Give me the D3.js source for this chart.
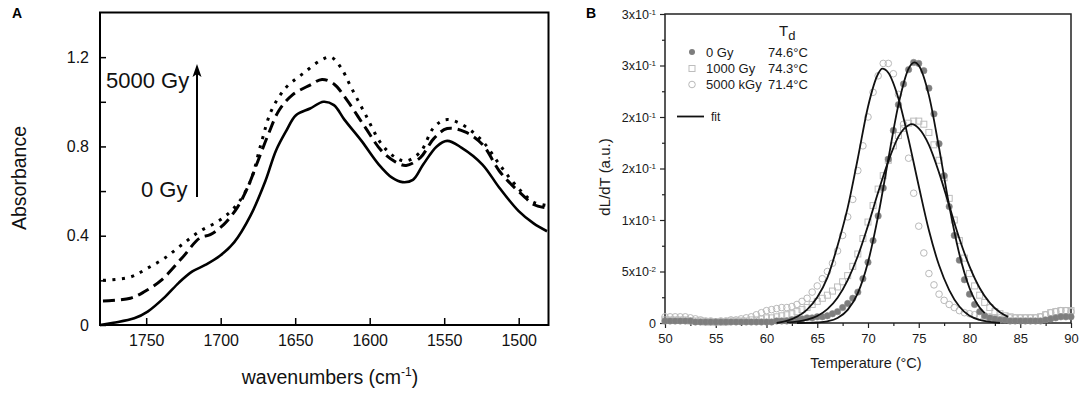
<!DOCTYPE html>
<html>
<head>
<meta charset="utf-8">
<script src="https://cdn.jsdelivr.net/npm/d3@7"></script>
<style>
  body { margin: 0; background: #fff; }
  svg { display: block; font-family: "Liberation Sans", Arial, sans-serif; }
</style>
</head>
<body>
<div id="chart-area"></div>
<script>
// ---------- Panel A data (wavenumber, absorbance) ----------
var spec0Gy = [
  [1781, 0.0], [1772, 0.01], [1758, 0.03], [1749, 0.06], [1737.5, 0.125], [1728, 0.19],
  [1719, 0.24], [1710, 0.27], [1700.5, 0.31], [1691, 0.37], [1680, 0.49], [1670, 0.645],
  [1663, 0.78], [1656, 0.87], [1649.5, 0.94], [1640, 0.97], [1631, 1.0], [1624, 0.985],
  [1617, 0.92], [1605.5, 0.825], [1594, 0.72], [1585, 0.66], [1578, 0.64], [1571, 0.65],
  [1564, 0.72], [1555, 0.80], [1548, 0.825], [1538.5, 0.795], [1524.5, 0.72], [1513, 0.615],
  [1500, 0.51], [1490, 0.455], [1481, 0.42]
];
var spec1000Gy = [
  [1779, 0.107], [1760.6, 0.12], [1751, 0.15], [1740, 0.20], [1726, 0.30], [1714, 0.39],
  [1707, 0.405], [1698, 0.45], [1689, 0.525], [1682, 0.615], [1675, 0.735], [1668, 0.855],
  [1661, 0.96], [1652, 1.03], [1640, 1.075], [1632, 1.10], [1624, 1.08], [1615, 1.005],
  [1603, 0.885], [1592, 0.78], [1582.5, 0.73], [1575.5, 0.715], [1566, 0.75], [1557, 0.835],
  [1548, 0.88], [1536, 0.865], [1524.5, 0.81], [1513, 0.69], [1505, 0.63], [1497, 0.58],
  [1490, 0.54], [1481, 0.525]
];
var spec5000Gy = [
  [1779, 0.20], [1760.6, 0.215], [1749, 0.255], [1737.5, 0.30], [1726, 0.36], [1714, 0.42],
  [1700.5, 0.47], [1689, 0.54], [1680, 0.645], [1673, 0.81], [1666, 0.96], [1656, 1.065],
  [1645, 1.125], [1633, 1.185], [1626, 1.20], [1619.5, 1.155], [1612.5, 1.065], [1603, 0.945],
  [1592, 0.81], [1582.5, 0.75], [1575.5, 0.735], [1566, 0.775], [1557, 0.885], [1549, 0.92],
  [1538.5, 0.90], [1524.5, 0.825], [1513, 0.72], [1505, 0.65], [1497, 0.59], [1490, 0.55],
  [1481, 0.535]
];
var aXTicks = [1750, 1700, 1650, 1600, 1550, 1500];
var aYTicks = [0, 0.2, 0.4, 0.6, 0.8, 1.0, 1.2];
var aYLabels = { 0: "0", 0.4: "0.4", 0.8: "0.8", 1.2: "1.2" };

// ---------- Panel B data (temperature every 0.5 °C from 50 to 90) ----------
var tempStart = 50, tempStep = 0.5;
var melt0Gy = [
  0.002, 0.002, 0.002, 0.002, 0.002, 0.002, 0.001, 0.001, 0.001, 0.001,
  0.001, 0.001, 0.001, 0.001, 0.001, 0.001, 0.001, 0.001, 0.001, 0.001,
  0.001, 0.001, 0.002, 0.002, 0.002, 0.003, 0.004, 0.004, 0.005, 0.005,
  0.006, 0.006, 0.007, 0.009, 0.011, 0.015, 0.019, 0.024, 0.030, 0.043,
  0.059, 0.080, 0.104, 0.131, 0.159, 0.187, 0.212, 0.232, 0.246, 0.253,
  0.252, 0.245, 0.228, 0.203, 0.174, 0.143, 0.113, 0.085, 0.061, 0.042,
  0.028, 0.018, 0.011, 0.007, 0.005, 0.004, 0.003, 0.003, 0.002, 0.002,
  0.002, 0.002, 0.002, 0.002, 0.002, 0.003, 0.004, 0.005, 0.006, 0.006,
  0.006
];
var melt1000Gy = [
  0.003, 0.003, 0.003, 0.003, 0.003, 0.002, 0.002, 0.002, 0.001, 0.001,
  0.001, 0.001, 0.001, 0.002, 0.002, 0.002, 0.002, 0.003, 0.003, 0.004,
  0.005, 0.005, 0.006, 0.007, 0.008, 0.009, 0.011, 0.013, 0.015, 0.018,
  0.021, 0.024, 0.027, 0.031, 0.035, 0.040, 0.046, 0.055, 0.067, 0.082,
  0.098, 0.114, 0.130, 0.143, 0.158, 0.172, 0.182, 0.189, 0.194, 0.196,
  0.196, 0.193, 0.185, 0.173, 0.158, 0.141, 0.121, 0.100, 0.080, 0.063,
  0.048, 0.036, 0.027, 0.020, 0.015, 0.011, 0.009, 0.007, 0.006, 0.005,
  0.005, 0.005, 0.005, 0.005, 0.006, 0.008, 0.010, 0.011, 0.012, 0.012,
  0.012
];
var melt5000kGy = [
  0.006, 0.006, 0.006, 0.006, 0.006, 0.005, 0.004, 0.003, 0.002, 0.002,
  0.001, 0.002, 0.002, 0.003, 0.003, 0.004, 0.005, 0.006, 0.008, 0.010,
  0.012, 0.013, 0.014, 0.015, 0.015, 0.016, 0.018, 0.021, 0.024, 0.030,
  0.036, 0.043, 0.050, 0.058, 0.070, 0.085, 0.103, 0.120, 0.148, 0.172,
  0.200, 0.224, 0.240, 0.252, 0.252, 0.242, 0.222, 0.193, 0.160, 0.126,
  0.094, 0.068, 0.048, 0.037, 0.028, 0.022, 0.018, 0.015, 0.012, 0.010,
  0.009, 0.008, 0.007, 0.006, 0.006, 0.005, 0.005, 0.005, 0.005, 0.005,
  0.005, 0.005, 0.005, 0.005, 0.006, 0.008, 0.010, 0.011, 0.012, 0.012,
  0.011
];
// fitted curves (temperature, dL/dT)
var fit0Gy = [
  [63, 0.000], [64, 0.0001], [65, 0.0005], [66, 0.0016], [67, 0.0048], [68, 0.0127],
  [69, 0.029], [70, 0.059], [71, 0.104], [72, 0.159], [73, 0.212], [74, 0.247],
  [74.6, 0.253], [75, 0.250], [76, 0.221], [77, 0.170], [78, 0.114], [79, 0.067],
  [80, 0.034], [81, 0.015], [81.5, 0.0096]
];
var fit1000Gy = [
  [62, 0.0006], [63, 0.0014], [64, 0.0032], [65, 0.0068], [66, 0.0135], [67, 0.0246],
  [68, 0.0417], [69, 0.065], [70, 0.0945], [71, 0.127], [72, 0.157], [73, 0.181],
  [74, 0.192], [74.3, 0.193], [75, 0.189], [76, 0.173], [77, 0.146], [78, 0.114],
  [79, 0.082], [80, 0.055], [81, 0.034], [82, 0.0195], [83, 0.0104], [83.8, 0.006]
];
var fit5000kGy = [
  [61, 0.000], [62, 0.002], [63, 0.006], [64, 0.013], [65, 0.025], [66, 0.044],
  [67, 0.075], [68, 0.112], [69, 0.160], [70, 0.210], [71, 0.242], [71.4, 0.247],
  [72, 0.243], [73, 0.218], [74, 0.178], [75, 0.133], [76, 0.090], [77, 0.056],
  [78, 0.032], [79, 0.016], [80, 0.007], [81, 0.003], [82, 0.001], [83, 0.000]
];
var bXTicks = [50, 55, 60, 65, 70, 75, 80, 85, 90];
var bYTicks = [0, 0.05, 0.10, 0.15, 0.20, 0.25, 0.30];
var bYLabels = [["0", ""], ["5x10", "-2"], ["1x10", "-1"], ["2x10", "-1"], ["2x10", "-1"], ["3x10", "-1"], ["3x10", "-1"]];
var legendNames = ["0 Gy", "1000 Gy", "5000 kGy"];
var legendTd = ["74.6°C", "74.3°C", "71.4°C"];

var svg = d3.select("#chart-area")
  .append("svg")
    .attr("width", 1084)
    .attr("height", 395);

// ================= Panel A =================
var aBox = { left: 100, right: 548.5, top: 12.5, bottom: 325 };

var xA = d3.scaleLinear().domain([1781, 1480]).range([aBox.left, aBox.right]);
var yA = d3.scaleLinear().domain([0, 1.4]).range([aBox.bottom, aBox.top]);

var gA = svg.append("g");

gA.append("g")
  .attr("transform", "translate(0," + aBox.bottom + ")")
  .call(d3.axisBottom(xA).tickValues(aXTicks).tickSize(-7).tickSizeOuter(0).tickPadding(10).tickFormat(d3.format("d")))
  .call(function (g) {
    g.select(".domain").remove();
    g.selectAll("line").attr("stroke", "#000").attr("stroke-width", 1.5);
    g.selectAll("text").attr("font-size", "16px").attr("fill", "#111").attr("font-family", null);
  });

gA.append("g")
  .attr("transform", "translate(" + aBox.left + ",0)")
  .call(d3.axisLeft(yA).tickValues(aYTicks).tickSize(-6).tickSizeOuter(0).tickPadding(11)
    .tickFormat(function (d) { return aYLabels[d] || ""; }))
  .call(function (g) {
    g.select(".domain").remove();
    g.selectAll("line").attr("stroke", "#000").attr("stroke-width", 1.5);
    g.selectAll("text").attr("font-size", "16px").attr("fill", "#111").attr("font-family", null);
  });

gA.append("rect")
  .attr("x", aBox.left)
  .attr("y", aBox.top)
  .attr("width", aBox.right - aBox.left)
  .attr("height", aBox.bottom - aBox.top)
  .attr("fill", "none")
  .attr("stroke", "#000")
  .attr("stroke-width", 2);

var lineA = d3.line()
  .x(function (d) { return xA(d[0]); })
  .y(function (d) { return yA(d[1]); })
  .curve(d3.curveCatmullRom);

gA.append("path").datum(spec0Gy)
  .attr("d", lineA).attr("fill", "none").attr("stroke", "#000").attr("stroke-width", 2.6);
gA.append("path").datum(spec1000Gy)
  .attr("d", lineA).attr("fill", "none").attr("stroke", "#000").attr("stroke-width", 3)
  .attr("stroke-dasharray", "12,6");
gA.append("path").datum(spec5000Gy)
  .attr("d", lineA).attr("fill", "none").attr("stroke", "#000").attr("stroke-width", 3)
  .attr("stroke-dasharray", "3,6.5");

// arrow
gA.append("line")
  .attr("x1", 197).attr("y1", 197).attr("x2", 197).attr("y2", 72)
  .attr("stroke", "#000").attr("stroke-width", 2);
gA.append("path")
  .attr("d", "M197,64 L192.5,77 L197,74 L201.5,77 Z")
  .attr("fill", "#000");

gA.append("text").attr("x", 106).attr("y", 88).attr("font-size", "22px").attr("fill", "#111").text("5000 Gy");
gA.append("text").attr("x", 141).attr("y", 197).attr("font-size", "22px").attr("fill", "#111").text("0 Gy");

// axis titles A
gA.append("text")
  .attr("x", 330).attr("y", 384)
  .attr("text-anchor", "middle")
  .attr("font-size", "19.5px")
  .attr("fill", "#111")
  .call(function (t) {
    t.append("tspan").text("wavenumbers (cm");
    t.append("tspan").attr("dy", -8).attr("font-size", "12px").text("-1");
    t.append("tspan").attr("dy", 8).text(")");
  });

gA.append("text")
  .attr("transform", "translate(26," + 178 + ") rotate(-90)")
  .attr("text-anchor", "middle")
  .attr("font-size", "19.5px")
  .attr("fill", "#111")
  .text("Absorbance");

gA.append("text").attr("x", 12).attr("y", 18).attr("font-size", "14px").attr("font-weight", "bold").text("A");

// ================= Panel B =================
var bBox = { left: 665, right: 1071, top: 14, bottom: 323 };

var xB = d3.scaleLinear().domain([50, 90]).range([bBox.left, bBox.right]);
var yB = d3.scaleLinear().domain([0, 0.30]).range([bBox.bottom, bBox.top]);

var gB = svg.append("g");
var bText = "#1a1a1a";

// minor ticks
gB.append("g")
  .attr("transform", "translate(0," + bBox.bottom + ")")
  .call(d3.axisBottom(xB).tickValues(d3.range(52.5, 90, 5)).tickSize(3).tickSizeOuter(0).tickFormat(""))
  .call(function (g) { g.select(".domain").remove(); g.selectAll("line").attr("stroke", "#222").attr("stroke-width", 1.2); });
gB.append("g")
  .attr("transform", "translate(" + bBox.left + ",0)")
  .call(d3.axisLeft(yB).tickValues(d3.range(0.025, 0.3, 0.05)).tickSize(3).tickSizeOuter(0).tickFormat(""))
  .call(function (g) { g.select(".domain").remove(); g.selectAll("line").attr("stroke", "#222").attr("stroke-width", 1.2); });

gB.append("g")
  .attr("transform", "translate(0," + bBox.bottom + ")")
  .call(d3.axisBottom(xB).tickValues(bXTicks).tickSize(5).tickSizeOuter(0).tickPadding(6).tickFormat(d3.format("d")))
  .call(function (g) {
    g.select(".domain").remove();
    g.selectAll("line").attr("stroke", "#222").attr("stroke-width", 1.2);
    g.selectAll("text").attr("font-size", "13px").attr("fill", bText).attr("font-family", null);
  });

gB.append("g")
  .attr("transform", "translate(" + bBox.left + ",0)")
  .call(d3.axisLeft(yB).tickValues(bYTicks).tickSize(5).tickSizeOuter(0).tickPadding(4).tickFormat(""))
  .call(function (g) {
    g.select(".domain").remove();
    g.selectAll("line").attr("stroke", "#222").attr("stroke-width", 1.2);
    g.selectAll(".tick text").each(function (d, i) {
      var t = d3.select(this).attr("font-size", "12.5px").attr("fill", bText).attr("font-family", null);
      var lab = bYLabels[i];
      t.append("tspan").text(lab[0]);
      if (lab[1]) t.append("tspan").attr("dy", "-0.45em").attr("font-size", "8px").text(lab[1]);
    });
  });

// frame
gB.append("path")
  .attr("d", "M" + bBox.left + "," + bBox.bottom + "V" + bBox.top + "H" + bBox.right + "V" + bBox.bottom + "H" + bBox.left)
  .attr("fill", "none")
  .attr("stroke", "#222")
  .attr("stroke-width", 1.5);

function tempOf(i) { return tempStart + i * tempStep; }

// data markers
var pts = gB.append("g");

pts.selectAll(".m5000").data(melt5000kGy).enter()
  .append("circle")
    .attr("cx", function (d, i) { return xB(tempOf(i)); })
    .attr("cy", function (d) { return yB(d); })
    .attr("r", 3.3)
    .attr("fill", "none")
    .attr("stroke", "#b9b9b9")
    .attr("stroke-width", 1);

pts.selectAll(".m1000").data(melt1000Gy).enter()
  .append("rect")
    .attr("x", function (d, i) { return xB(tempOf(i)) - 3; })
    .attr("y", function (d) { return yB(d) - 3; })
    .attr("width", 6)
    .attr("height", 6)
    .attr("fill", "none")
    .attr("stroke", "#bdbdbd")
    .attr("stroke-width", 1);

pts.selectAll(".m0").data(melt0Gy).enter()
  .append("circle")
    .attr("cx", function (d, i) { return xB(tempOf(i)); })
    .attr("cy", function (d) { return yB(d); })
    .attr("r", 3.2)
    .attr("fill", "#7d7d7d")
    .attr("stroke", "#8a8a8a")
    .attr("stroke-width", 0.6);

// fits
var lineB = d3.line()
  .x(function (d) { return xB(d[0]); })
  .y(function (d) { return yB(d[1]); })
  .curve(d3.curveMonotoneX);

[fit5000kGy, fit1000Gy, fit0Gy].forEach(function (f) {
  gB.append("path").datum(f)
    .attr("d", lineB)
    .attr("fill", "none")
    .attr("stroke", "#111")
    .attr("stroke-width", 1.8);
});

// legend
var lg = gB.append("g");
lg.append("text").attr("x", 779).attr("y", 36).attr("font-size", "15px").attr("fill", bText)
  .call(function (t) {
    t.append("tspan").text("T");
    t.append("tspan").attr("dy", 4).attr("font-size", "13px").text("d");
  });

var rowY = [52, 68.5, 84.5];
lg.append("circle").attr("cx", 692).attr("cy", rowY[0]).attr("r", 3).attr("fill", "#7d7d7d");
lg.append("rect").attr("x", 689).attr("y", rowY[1] - 3).attr("width", 6).attr("height", 6)
  .attr("fill", "none").attr("stroke", "#bdbdbd").attr("stroke-width", 1);
lg.append("circle").attr("cx", 692).attr("cy", rowY[2]).attr("r", 3.3)
  .attr("fill", "none").attr("stroke", "#b9b9b9").attr("stroke-width", 1);

legendNames.forEach(function (n, i) {
  lg.append("text").attr("x", 706).attr("y", rowY[i] + 4.5).attr("font-size", "13px").attr("fill", bText).text(n);
  lg.append("text").attr("x", 768).attr("y", rowY[i] + 4.5).attr("font-size", "13px").attr("fill", bText).text(legendTd[i]);
});

lg.append("line").attr("x1", 677).attr("x2", 704).attr("y1", 116.5).attr("y2", 116.5)
  .attr("stroke", "#111").attr("stroke-width", 1.8);
lg.append("text").attr("x", 711).attr("y", 121).attr("font-size", "12px").attr("fill", bText).text("fit");

// axis titles B
gB.append("text")
  .attr("x", 866).attr("y", 368)
  .attr("text-anchor", "middle")
  .attr("font-size", "14.5px")
  .attr("fill", bText)
  .text("Temperature (°C)");

gB.append("text")
  .attr("transform", "translate(610,177) rotate(-90)")
  .attr("text-anchor", "middle")
  .attr("font-size", "15px")
  .attr("fill", bText)
  .text("dL/dT (a.u.)");

gB.append("text").attr("x", 586).attr("y", 18).attr("font-size", "14px").attr("font-weight", "bold").text("B");
</script>
</body>
</html>
